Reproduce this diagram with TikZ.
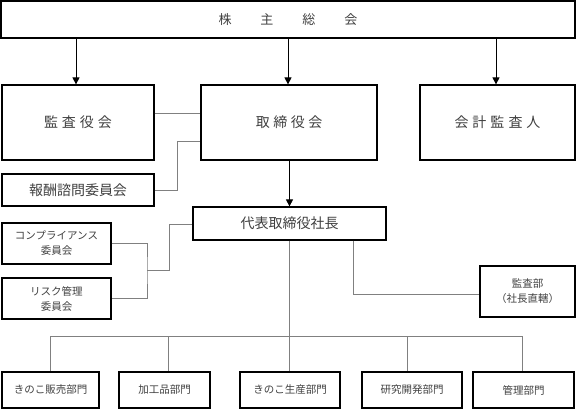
\documentclass[tikz,border=0pt]{standalone}
\usepackage{fontspec}
\newfontfamily\jp{Noto Sans CJK JP}
\usetikzlibrary{arrows.meta}
\tikzset{
  box/.style={draw=black, line width=1.2pt, fill=white, inner sep=0pt, align=center, text=black!75, font=\jp\fontsize{14}{16}\selectfont},
  smallbox/.style={box, font=\jp\fontsize{10.5}{15}\selectfont},
  conn/.style={draw=black!50, line width=0.9pt},
  arr/.style={draw=black, line width=0.8pt, -{Triangle[width=7pt,length=7pt]}},
}
\begin{document}
\begin{tikzpicture}[x=1pt,y=-1pt]
\useasboundingbox (0,0) rectangle (576,409);
% boxes: centre, size
\node[box, minimum width=574pt, minimum height=37pt, font=\jp\fontsize{13}{15}\selectfont] (sh) at (288,19.5) {株\hspace{29pt}主\hspace{29pt}総\hspace{29pt}会};
\node[box, minimum width=152pt, minimum height=75pt] (kansa) at (78,122.5) {監\hspace{4pt}査\hspace{4pt}役\hspace{4pt}会};
\node[box, minimum width=176pt, minimum height=75pt] (tori) at (289,122.5) {取\hspace{3.5pt}締\hspace{3.5pt}役\hspace{3.5pt}会};
\node[box, minimum width=155pt, minimum height=75pt] (kaikei) at (497.5,122.5) {会\hspace{4pt}計\hspace{4pt}監\hspace{4pt}査\hspace{4pt}人};
\node[box, minimum width=152pt, minimum height=32pt] (hoshu) at (78,190) {報酬諮問委員会};
\node[box, minimum width=193pt, minimum height=33pt] (ceo) at (289.5,223.5) {代表取締役社長};
\node[smallbox, minimum width=109pt, minimum height=41pt] (comp) at (56.5,243.5) {コンプライアンス\\委員会};
\node[smallbox, minimum width=109pt, minimum height=41pt] (risk) at (56.5,298.5) {リスク管理\\委員会};
\node[smallbox, minimum width=95pt, minimum height=51pt] (audit) at (527.5,291.5) {監査部\\（社長直轄）};
\node[smallbox, minimum width=97pt, minimum height=36pt] (d1) at (50.5,390) {きのこ販売部門};
\node[smallbox, minimum width=91pt, minimum height=36pt] (d2) at (164.5,390) {加工品部門};
\node[smallbox, minimum width=100pt, minimum height=36pt] (d3) at (290,390) {きのこ生産部門};
\node[smallbox, minimum width=100pt, minimum height=36pt] (d4) at (412,390) {研究開発部門};
\node[smallbox, minimum width=101pt, minimum height=36pt] (d5) at (523.5,390) {管理部門};
% arrows from shareholders meeting
\coordinate (ax1) at (76,0);
\coordinate (ax2) at (288,0);
\coordinate (ax3) at (496,0);
\draw[arr] (sh.south -| ax1) -- (kansa.north -| ax1);
\draw[arr] (sh.south -| ax2) -- (tori.north -| ax2);
\draw[arr] (sh.south -| ax3) -- (kaikei.north -| ax3);
% kansa - tori
\draw[conn] (kansa.east |- 0,113) -- (tori.west |- 0,113);
% hoshu - tori
\coordinate (hx) at (177,141);
\draw[conn] (hoshu.east) -| (hx) -- (tori.west |- hx);
% tori -> ceo
\draw[arr] (tori.south -| ceo) -- (ceo.north);
% committees
\coordinate (cx) at (147,270);
\coordinate (cy) at (169,224);
\draw[conn] (comp.east) -| (cx) |- (risk.east);
\draw[conn] (cx) -| (cy) -- (ceo.west |- cy);
% audit dept
\coordinate (ax) at (353,294);
\draw[conn] (ceo.south -| ax) -- (ax) -- (audit.west |- ax);
% departments bus
\coordinate (b1) at (50,336);
\coordinate (b2) at (168,336);
\coordinate (b3) at (289,336);
\coordinate (b4) at (407,336);
\coordinate (b5) at (522,336);
\draw[conn] (b1) -- (b5);
\draw[conn] (ceo.south -| b3) -- (d3.north -| b3);
\draw[conn] (b1) -- (d1.north -| b1);
\draw[conn] (b2) -- (d2.north -| b2);
\draw[conn] (b4) -- (d4.north -| b4);
\draw[conn] (b5) -- (d5.north -| b5);
\end{tikzpicture}
\end{document}
